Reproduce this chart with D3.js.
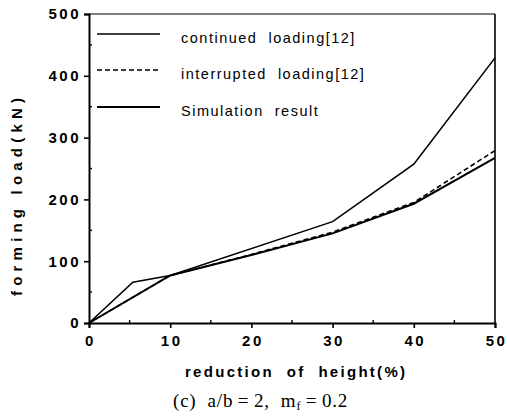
<!DOCTYPE html>
<html><head><meta charset="utf-8">
<script src="https://cdn.jsdelivr.net/npm/d3@7"></script>
<style>
html,body{margin:0;padding:0;background:#fff;}
svg{display:block;}
text{fill:#000;}
</style></head>
<body>
<script>
// ---- data ----
const contX = [0, 5.4, 10, 30, 40, 50];
const contY = [0, 66, 77, 164, 257, 429];
const interX = [0, 10, 20, 30, 40, 50];
const interY = [0, 77, 111, 147, 195, 279];
const simX = [0, 10, 20, 30, 40, 50];
const simY = [0, 77, 110, 145, 193, 267];
const xTicks = [0, 10, 20, 30, 40, 50];
const yTicks = [0, 100, 200, 300, 400, 500];
const legendLabels = ["continued\u00a0\u00a0loading[12]", "interrupted\u00a0\u00a0loading[12]", "Simulation\u00a0\u00a0result"];

const W = 507, H = 418;
const svg = d3.select("body").append("svg").attr("width", W).attr("height", H);
const x = d3.scaleLinear().domain([0, 50]).range([89, 495]);
const y = d3.scaleLinear().domain([0, 500]).range([323, 14]);
const font = "'Liberation Sans', Arial, Helvetica, sans-serif";

// frame (top and right)
svg.append("line").attr("x1", x(0)).attr("x2", x(50)).attr("y1", y(500)).attr("y2", y(500))
  .attr("stroke", "#000").attr("stroke-width", 1.2);
svg.append("line").attr("x1", x(50)).attr("x2", x(50)).attr("y1", y(500)).attr("y2", y(0))
  .attr("stroke", "#000").attr("stroke-width", 1.6);

// axes
const yAxis = d3.axisLeft(y).tickValues(yTicks).tickSize(5).tickPadding(5).tickFormat(d3.format("d"));
const xAxis = d3.axisBottom(x).tickValues(xTicks).tickSize(5).tickPadding(7).tickFormat(d3.format("d"));
const gy = svg.append("g").attr("transform", `translate(${x(0)},0)`).call(yAxis);
const gx = svg.append("g").attr("transform", `translate(0,${y(0)})`).call(xAxis);
[gx, gy].forEach(g => {
  g.select(".domain").attr("stroke", "#000").attr("stroke-width", 2);
  g.selectAll(".tick line").attr("stroke", "#000").attr("stroke-width", 1.6);
  g.selectAll(".tick text").attr("font-family", font).attr("font-weight", "bold")
    .attr("font-size", 15).attr("letter-spacing", 2.5).attr("fill", "#000");
});
gy.selectAll(".tick text").attr("dx", 2);
gx.selectAll(".tick text").attr("dx", 1);
// minor ticks (inward)
const yMinor = d3.range(50, 500, 100);
svg.selectAll(".ym").data(yMinor).enter().append("line")
  .attr("x1", x(0)).attr("x2", x(0) + 3).attr("y1", d => y(d)).attr("y2", d => y(d))
  .attr("stroke", "#000").attr("stroke-width", 1.4);
const xMinor = d3.range(5, 50, 10);
svg.selectAll(".xm").data(xMinor).enter().append("line")
  .attr("x1", d => x(d)).attr("x2", d => x(d)).attr("y1", y(0)).attr("y2", y(0) - 3)
  .attr("stroke", "#000").attr("stroke-width", 1.4);

// lines
const mk = (xs, ys) => xs.map((v, i) => [v, ys[i]]);
const line = d3.line().x(d => x(d[0])).y(d => y(d[1]));
svg.append("path").datum(mk(interX, interY)).attr("d", line).attr("fill", "none")
  .attr("stroke", "#000").attr("stroke-width", 1.6).attr("stroke-dasharray", "5,3");
svg.append("path").datum(mk(simX, simY)).attr("d", line).attr("fill", "none")
  .attr("stroke", "#000").attr("stroke-width", 2);
svg.append("path").datum(mk(contX, contY)).attr("d", line).attr("fill", "none")
  .attr("stroke", "#000").attr("stroke-width", 1.6);

// legend
const legY = [34, 70, 107];
const legStyles = [
  {w: 1.4, dash: null},
  {w: 1.6, dash: "5,3"},
  {w: 2, dash: null}
];
legendLabels.forEach((t, i) => {
  svg.append("line").attr("x1", 97).attr("x2", 160).attr("y1", legY[i]).attr("y2", legY[i])
    .attr("stroke", "#000").attr("stroke-width", legStyles[i].w)
    .attr("stroke-dasharray", legStyles[i].dash);
  svg.append("text").attr("x", 181).attr("y", legY[i] + 9)
    .attr("font-family", font).attr("font-size", 14.5).attr("letter-spacing", 1.5)
    .text(t);
});

// axis titles
svg.append("text").attr("transform", "translate(22,197) rotate(-90)")
  .attr("text-anchor", "middle").attr("font-family", font).attr("font-weight", "bold")
  .attr("font-size", 15).attr("textLength", 198).attr("lengthAdjust", "spacing")
  .text("forming load(kN)");
svg.append("text").attr("x", 295).attr("y", 377)
  .attr("text-anchor", "middle").attr("font-family", font).attr("font-weight", "bold")
  .attr("font-size", 15).attr("textLength", 220).attr("lengthAdjust", "spacing")
  .text("reduction\u00a0\u00a0of\u00a0\u00a0height(%)");

// caption
const cap = svg.append("text").attr("x", 173).attr("y", 407)
  .attr("font-family", "'Liberation Serif', 'Times New Roman', serif").attr("font-size", 19)
  .attr("letter-spacing", 0.8);
cap.append("tspan").text("(c)\u00a0\u00a0a/b\u2009=\u20092,\u00a0\u00a0m");
cap.append("tspan").attr("font-size", 12).attr("dy", 3).text("f");
cap.append("tspan").attr("dy", -3).text("\u2009=\u20090.2");
</script>
</body></html>
